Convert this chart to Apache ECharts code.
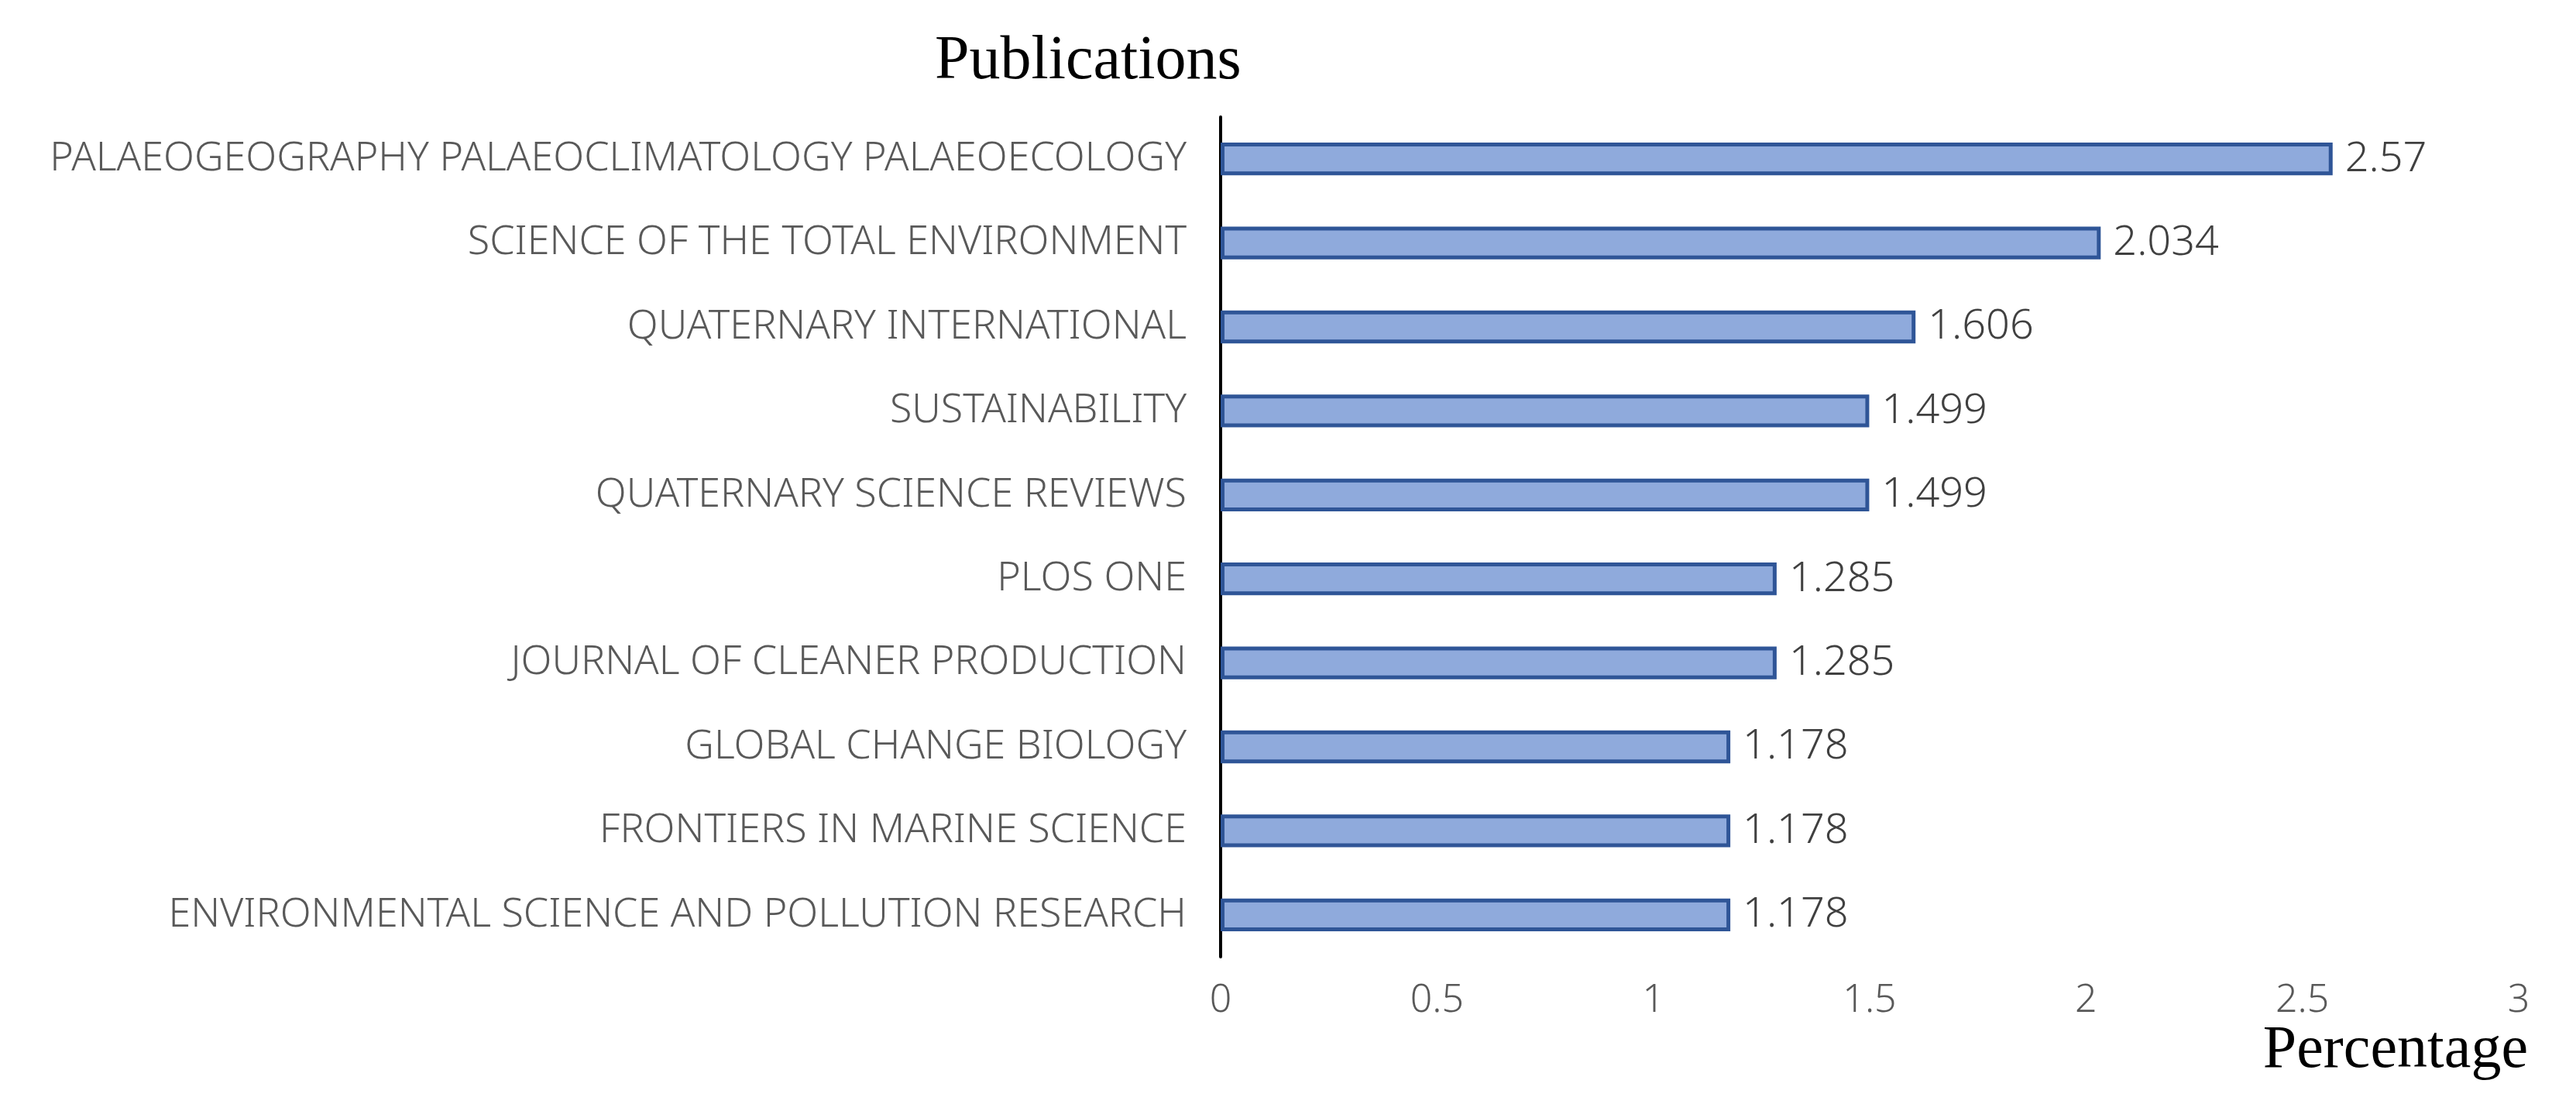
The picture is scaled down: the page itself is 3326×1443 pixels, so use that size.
<!DOCTYPE html>
<html><head><meta charset="utf-8">
<script src="https://cdn.jsdelivr.net/npm/echarts@6/dist/echarts.min.js"></script>
<style>html,body{margin:0;padding:0;background:#fff}#c{width:3326px;height:1443px}</style>
</head><body><div id="c"></div>
<script>
const categories = [
  'PALAEOGEOGRAPHY PALAEOCLIMATOLOGY PALAEOECOLOGY',
  'SCIENCE OF THE TOTAL ENVIRONMENT',
  'QUATERNARY INTERNATIONAL',
  'SUSTAINABILITY',
  'QUATERNARY SCIENCE REVIEWS',
  'PLOS ONE',
  'JOURNAL OF CLEANER PRODUCTION',
  'GLOBAL CHANGE BIOLOGY',
  'FRONTIERS IN MARINE SCIENCE',
  'ENVIRONMENTAL SCIENCE AND POLLUTION RESEARCH'
];
const values = [2.57, 2.034, 1.606, 1.499, 1.499, 1.285, 1.285, 1.178, 1.178, 1.178];
const xTicks = [0, 0.5, 1, 1.5, 2, 2.5, 3];

const chart = echarts.init(document.getElementById('c'));
const sans = 'Noto Sans';
chart.setOption({
  animation: false,
  grid: {left: 1576, right: 74, top: 151, bottom: 208, containLabel: false},
  xAxis: {
    type: 'value', min: 0, max: 3, interval: 0.5,
    axisLine: {show: false}, axisTick: {show: false}, splitLine: {show: false},
    axisLabel: {color: '#595959', fontFamily: sans, fontWeight: 300, fontSize: 50, margin: 32,
      formatter: v => String(v)}
  },
  yAxis: {
    type: 'category', data: categories, inverse: true,
    axisLine: {show: true, lineStyle: {color: '#000', width: 4}},
    axisTick: {show: false},
    axisLabel: {color: '#595959', fontFamily: sans, fontWeight: 300, fontSize: 52, margin: 44}
  },
  series: [{
    type: 'bar', data: values, barWidth: '39%',
    itemStyle: {color: '#8FAADC', borderColor: '#2F5597', borderWidth: 5},
    label: {show: true, position: 'right', distance: 16, color: '#404040',
      fontFamily: sans, fontWeight: 300, fontSize: 54}
  }],
  graphic: [
    {type: 'text', left: 1207, top: 40, style: {text: 'Publications', font: '80px "Liberation Serif"', fill: '#000'}},
    {type: 'text', right: 62, top: 1318, style: {text: 'Percentage', font: '78px "Liberation Serif"', fill: '#000'}}
  ]
});
</script></body></html>
